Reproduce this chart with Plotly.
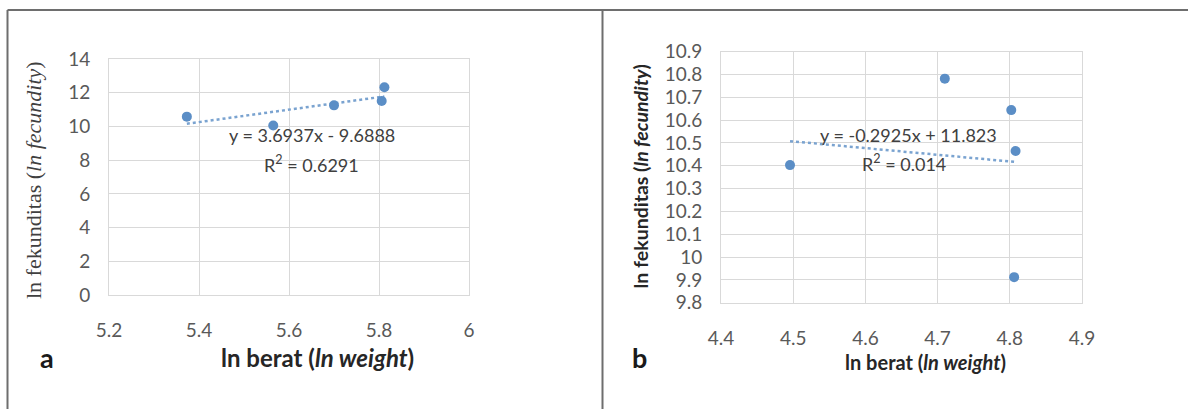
import plotly.graph_objects as go

W, H = 1188, 409

# ---- data ----
a_x = [5.373, 5.565, 5.700, 5.806, 5.812]
a_y = [10.58, 10.06, 11.25, 11.51, 12.32]
a_slope, a_intercept = 3.6937, -9.6888
a_eq = "y = 3.6937x - 9.6888"
a_r2 = "R<sup>2</sup> = 0.6291"
a_xticks = [5.2, 5.4, 5.6, 5.8, 6.0]
a_xticklabels = ["5.2", "5.4", "5.6", "5.8", "6"]
a_yticks = [0, 2, 4, 6, 8, 10, 12, 14]

b_x = [4.4956, 4.710, 4.802, 4.808, 4.806]
b_y = [10.403, 10.782, 10.644, 10.465, 9.912]
b_slope, b_intercept = -0.2925, 11.823
b_eq = "y = -0.2925x + 11.823"
b_r2 = "R<sup>2</sup> = 0.014"
b_xticks = [4.4, 4.5, 4.6, 4.7, 4.8, 4.9]
b_yticks = [9.8, 9.9, 10.0, 10.1, 10.2, 10.3, 10.4, 10.5, 10.6, 10.7, 10.8, 10.9]
b_yticklabels = ["9.8", "9.9", "10", "10.1", "10.2", "10.3", "10.4", "10.5", "10.6", "10.7", "10.8", "10.9"]

MARK = "#5b8ec6"
TREND = "#7aa3d0"
GRID = "#d9d9d9"
TICK = "#595959"
SANS = "Lato"
SERIF = "Liberation Serif, Times New Roman, serif"


def px(x):
    return x / W


def py(y):
    return (H - y) / H


fig = go.Figure()

# panel a
fig.add_trace(go.Scatter(x=[min(a_x), max(a_x)],
                         y=[a_slope * min(a_x) + a_intercept, a_slope * max(a_x) + a_intercept],
                         mode="lines", line=dict(color=TREND, width=2.5, dash="dot"),
                         xaxis="x", yaxis="y", showlegend=False, hoverinfo="skip"))
fig.add_trace(go.Scatter(x=a_x, y=a_y, mode="markers",
                         marker=dict(color=MARK, size=10),
                         xaxis="x", yaxis="y", showlegend=False))
# panel b
fig.add_trace(go.Scatter(x=[min(b_x), max(b_x)],
                         y=[b_slope * min(b_x) + b_intercept, b_slope * max(b_x) + b_intercept],
                         mode="lines", line=dict(color=TREND, width=2.5, dash="dot"),
                         xaxis="x2", yaxis="y2", showlegend=False, hoverinfo="skip"))
fig.add_trace(go.Scatter(x=b_x, y=b_y, mode="markers",
                         marker=dict(color=MARK, size=10),
                         xaxis="x2", yaxis="y2", showlegend=False))

axis_common = dict(showgrid=True, gridcolor=GRID, gridwidth=1, zeroline=False,
                   showline=True, linecolor=GRID, linewidth=1, mirror=True,
                   ticks="", tickfont=dict(family=SANS, size=19, color=TICK),
                   fixedrange=True, automargin=False)

fig.update_layout(
    template="none",
    width=W, height=H,
    margin=dict(l=0, r=0, t=0, b=0, pad=0),
    paper_bgcolor="white", plot_bgcolor="white",
    xaxis=dict(domain=[px(109), px(469)], range=[5.2, 6.0], anchor="y",
               tickvals=a_xticks, ticktext=a_xticklabels, ticklabelstandoff=18, **axis_common),
    yaxis=dict(domain=[py(295), py(59)], range=[0, 14], anchor="x",
               tickvals=a_yticks, ticklabelstandoff=14, **axis_common),
    xaxis2=dict(domain=[px(721), px(1082)], range=[4.4, 4.9], anchor="y2",
                tickvals=b_xticks, ticklabelstandoff=18, **axis_common),
    yaxis2=dict(domain=[py(302.7), py(51.7)], range=[9.8, 10.9], anchor="x2",
                tickvals=b_yticks, ticktext=b_yticklabels, ticklabelstandoff=14, **axis_common),
)

EQ = dict(family=SANS, size=18, color="#404040")
ann = [
    # equations
    dict(x=px(311.7), y=py(135), text=a_eq, font=EQ),
    dict(x=px(311.7), y=py(164), text=a_r2, font=EQ),
    dict(x=px(908), y=py(135), text=b_eq, font=EQ),
    dict(x=px(903.5), y=py(163), text=b_r2, font=EQ),
    # axis titles
    dict(x=px(33), y=py(180), text="ln fekunditas (<i>ln fecundity</i>)", textangle=-90,
         font=dict(family=SERIF, size=22, color="#404040")),
    dict(x=px(317), y=py(357), text="<b>ln berat (<i>ln weight</i>)</b>",
         font=dict(family=SANS, size=24, color="#262626")),
    dict(x=px(640), y=py(176.5), text="<b>ln fekunditas (<i>ln fecundity</i>)</b>", textangle=-90,
         font=dict(family=SANS, size=19.5, color="#262626")),
    dict(x=px(925.7), y=py(361.7), text="<b>ln berat (<i>ln weight</i>)</b>",
         font=dict(family=SANS, size=20, color="#262626")),
    # panel letters
    dict(x=px(47), y=py(357), text="<b>a</b>", font=dict(family=SANS, size=27, color="#1a1a1a")),
    dict(x=px(639), y=py(357), text="<b>b</b>", font=dict(family=SANS, size=27, color="#1a1a1a")),
]
for a in ann:
    a.update(xref="paper", yref="paper", showarrow=False, xanchor="center", yanchor="middle")
fig.update_layout(annotations=ann)

border = dict(color="#6e6e6e", width=2)
fig.update_layout(shapes=[
    dict(type="line", xref="paper", yref="paper", x0=px(7.5), x1=1, y0=py(10), y1=py(10), line=border),
    dict(type="line", xref="paper", yref="paper", x0=px(7.5), x1=px(7.5), y0=0, y1=py(10), line=border),
    dict(type="line", xref="paper", yref="paper", x0=px(602.5), x1=px(602.5), y0=0, y1=py(10), line=border),
])

fig.write_html("out.html",
               config={"displayModeBar": False, "staticPlot": True},
               post_script="document.body.style.margin='0';document.body.style.overflow='hidden';")
